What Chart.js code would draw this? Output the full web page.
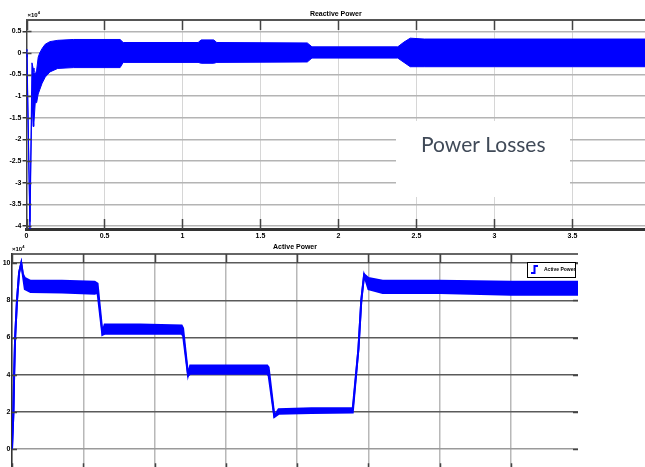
<!DOCTYPE html>
<html>
<head>
<meta charset="utf-8">
<script src="https://cdn.jsdelivr.net/npm/chart.js@4.4.0/dist/chart.umd.min.js"></script>
<style>
  html, body { margin: 0; padding: 0; background: #fff; overflow: hidden; width: 645px; height: 467px; }
  canvas { position: absolute; left: 0; }
  #topChart { top: 0; }
  #botChart { top: 238px; }
</style>
</head>
<body>
<canvas id="topChart" width="645" height="242"></canvas>
<canvas id="botChart" width="645" height="240"></canvas>
<script>
// Reactive Power (x10^4) - upper / lower envelope of the oscillating signal
const reactT  = [0, 0.003, 0.022, 0.035, 0.042, 0.048, 0.056, 0.065, 0.075, 0.085, 0.1, 0.12, 0.15, 0.2, 0.3, 0.6, 0.62, 1.1, 1.12, 1.2, 1.22, 1.8, 1.83, 2.38, 2.42, 2.46, 2.55, 3.0, 3.5, 3.965];
const reactHi = [0.08, 0.05, -3.9, -0.23, -0.35, -0.45, -0.5, -0.4, -0.1, 0.0, 0.1, 0.2, 0.26, 0.29, 0.31, 0.31, 0.24, 0.24, 0.3, 0.3, 0.24, 0.23, 0.14, 0.14, 0.25, 0.34, 0.32, 0.32, 0.32, 0.32];
const reactLo = [0.0, -0.1, -4.1, -0.9, -1.7, -1.6, -1.15, -1.15, -0.95, -0.85, -0.7, -0.56, -0.44, -0.36, -0.34, -0.34, -0.22, -0.22, -0.24, -0.24, -0.22, -0.21, -0.12, -0.12, -0.22, -0.32, -0.32, -0.32, -0.32, -0.32];

// Active Power (x10^4)
const activeT  = [0, 0.01, 0.015, 0.022, 0.035, 0.05, 0.065, 0.077, 0.09, 0.13, 0.35, 0.58, 0.6, 0.634, 0.65, 0.9, 1.19, 1.2, 1.235, 1.25, 1.5, 1.79, 1.8, 1.84, 1.87, 2.1, 2.39, 2.43, 2.45, 2.47, 2.5, 2.6, 3.0, 3.5, 3.97];
const activeHi = [0, 2.0, 4.0, 6.0, 8.0, 9.5, 10.0, 9.4, 9.2, 9.05, 9.05, 9.0, 8.9, 6.3, 6.7, 6.7, 6.65, 6.5, 4.0, 4.5, 4.5, 4.5, 4.4, 1.8, 2.15, 2.2, 2.2, 5.4, 8.0, 9.4, 9.2, 9.05, 9.05, 9.0, 9.0];
const activeLo = [0, 2.0, 4.0, 6.0, 8.0, 9.5, 10.0, 9.3, 8.6, 8.45, 8.42, 8.35, 8.4, 6.15, 6.2, 6.2, 6.2, 6.1, 3.95, 4.05, 4.05, 4.05, 3.95, 1.73, 1.9, 1.95, 1.97, 5.4, 8.0, 9.35, 8.6, 8.4, 8.4, 8.3, 8.3];

const BLUE = '#0000ff';
const tickFont = { family: 'Arial', size: 7, weight: 'bold' };

function pts(xs, ys) {
  return xs.map((x, i) => ({ x: x, y: ys[i] }));
}

// matlab style labels: 1 not 1.0
function plainLabel(v) {
  return String(+v.toFixed(2));
}

// frame, inner tick marks, titles, note and legend
const decor = {
  id: 'decor',
  afterDraw(chart, args, o) {
    const { ctx, chartArea: a } = chart;
    const x = chart.scales.x, y = chart.scales.y;
    ctx.save();

    ctx.strokeStyle = o.frameColor;
    ctx.lineWidth = o.frameWidth;
    ctx.beginPath();
    ctx.moveTo(a.left, a.top);
    ctx.lineTo(a.right, a.top);
    ctx.stroke();

    ctx.strokeStyle = '#444';
    ctx.lineWidth = 1.5;
    ctx.beginPath();
    x.ticks.forEach(t => {
      const px = Math.round(x.getPixelForValue(t.value)) + 0.5;
      ctx.moveTo(px, a.top); ctx.lineTo(px, a.top + o.stub);
      ctx.moveTo(px, a.bottom); ctx.lineTo(px, a.bottom - o.stub);
    });
    y.ticks.forEach(t => {
      const py = Math.round(y.getPixelForValue(t.value)) + 0.5;
      ctx.moveTo(a.left, py); ctx.lineTo(a.left + 5, py);
      if (o.rightStubs) { ctx.moveTo(a.right, py); ctx.lineTo(a.right - 5, py); }
    });
    ctx.stroke();

    // title
    ctx.fillStyle = '#000';
    ctx.font = 'bold 7px Arial';
    ctx.textAlign = 'center';
    ctx.textBaseline = 'alphabetic';
    ctx.fillText(o.title, (a.left + a.right) / 2, a.top - o.titleGap);

    // exponent label
    ctx.textAlign = 'left';
    ctx.font = 'bold 6px Arial';
    ctx.fillText('\u00d710', a.left + o.expDx, a.top - 3);
    const w = ctx.measureText('\u00d710').width;
    ctx.font = 'bold 4px Arial';
    ctx.fillText('4', a.left + o.expDx + w, a.top - 6);

    if (o.note) {
      ctx.fillStyle = '#fff';
      ctx.fillRect(396, 121, 174, 76);
      ctx.fillStyle = '#404a58';
      ctx.font = '21px Lato';
      ctx.fillText(o.note, 421, 152);
    }

    if (o.legend) {
      const bx = a.right - 51, by = a.top + 8, bw = 48, bh = 15;
      ctx.fillStyle = '#fff';
      ctx.fillRect(bx, by, bw, bh);
      ctx.strokeStyle = '#000';
      ctx.lineWidth = 1;
      ctx.strokeRect(bx + 0.5, by + 0.5, bw, bh);
      ctx.strokeStyle = BLUE;
      ctx.lineWidth = 2;
      ctx.beginPath();
      ctx.moveTo(bx + 4, by + 11);
      ctx.lineTo(bx + 7.5, by + 11);
      ctx.lineTo(bx + 7.5, by + 4);
      ctx.lineTo(bx + 11, by + 4);
      ctx.stroke();
      ctx.fillStyle = '#000';
      ctx.font = 'bold 5px Arial';
      ctx.textBaseline = 'middle';
      ctx.fillText(o.legend, bx + 17, by + bh / 2 + 0.5);
    }
    ctx.restore();
  }
};

new Chart(document.getElementById('topChart'), {
  type: 'line',
  data: {
    datasets: [
      { data: pts(reactT, reactHi), borderColor: BLUE, borderWidth: 1, pointRadius: 0, fill: false },
      { data: pts(reactT, reactLo), borderColor: BLUE, borderWidth: 1, pointRadius: 0, fill: '-1', backgroundColor: BLUE }
    ]
  },
  options: {
    responsive: false,
    animation: false,
    devicePixelRatio: 1,
    layout: { padding: { top: 20, left: 0, right: 0, bottom: 0 } },
    scales: {
      x: {
        type: 'linear', min: 0, max: 3.965,
        ticks: { stepSize: 0.5, includeBounds: false, font: tickFont, color: '#000', padding: 3, maxRotation: 0, autoSkip: false, callback: plainLabel },
        grid: { color: '#d6d6d6', lineWidth: 1, drawTicks: false },
        border: { color: '#333', width: 3 },
        afterFit(s) { s.height = 13; }
      },
      y: {
        type: 'linear', min: -4.07, max: 0.76,
        ticks: { stepSize: 0.5, includeBounds: false, font: tickFont, color: '#000', padding: 1, callback: plainLabel },
        grid: { color: '#b4b4b4', lineWidth: 1.5, drawTicks: true, tickLength: 4, tickColor: '#333' },
        border: { color: '#444', width: 1.5 },
        afterFit(s) { s.width = 26.5; }
      }
    },
    plugins: {
      legend: { display: false },
      tooltip: { enabled: false },
      decor: { title: 'Reactive Power', titleGap: 4, expDx: 1, frameColor: '#555', frameWidth: 2, stub: 10, rightStubs: false, note: 'Power Losses' }
    }
  },
  plugins: [decor]
});

new Chart(document.getElementById('botChart'), {
  type: 'line',
  data: {
    datasets: [
      { data: pts(activeT, activeHi), borderColor: BLUE, borderWidth: 2, pointRadius: 0, fill: false },
      { data: pts(activeT, activeLo), borderColor: BLUE, borderWidth: 2, pointRadius: 0, fill: '-1', backgroundColor: BLUE }
    ]
  },
  options: {
    responsive: false,
    animation: false,
    devicePixelRatio: 1,
    layout: { padding: { top: 16, left: 0, right: 67, bottom: 0 } },
    scales: {
      x: {
        type: 'linear', min: 0, max: 3.97,
        ticks: { stepSize: 0.5, includeBounds: false, display: false },
        grid: { color: '#b8b8b8', lineWidth: 1.5, drawTicks: false },
        border: { color: '#333', width: 2 },
        afterFit(s) { s.height = 2; }
      },
      y: {
        type: 'linear', min: -1.24, max: 10.49,
        ticks: { stepSize: 2, includeBounds: false, font: tickFont, color: '#000', padding: 1.5, callback: plainLabel },
        grid: { color: c => (c.tick && c.tick.value === 0 ? '#9a9a9a' : '#5a5a5a'), lineWidth: 1.5, drawTicks: false },
        border: { color: '#333', width: 1.5 },
        afterFit(s) { s.width = 12; }
      }
    },
    plugins: {
      legend: { display: false },
      tooltip: { enabled: false },
      decor: { title: 'Active Power', titleGap: 5, expDx: 0, frameColor: '#333', frameWidth: 1.5, stub: 9, rightStubs: true, legend: 'Active Power' }
    }
  },
  plugins: [decor]
});
</script>
</body>
</html>
